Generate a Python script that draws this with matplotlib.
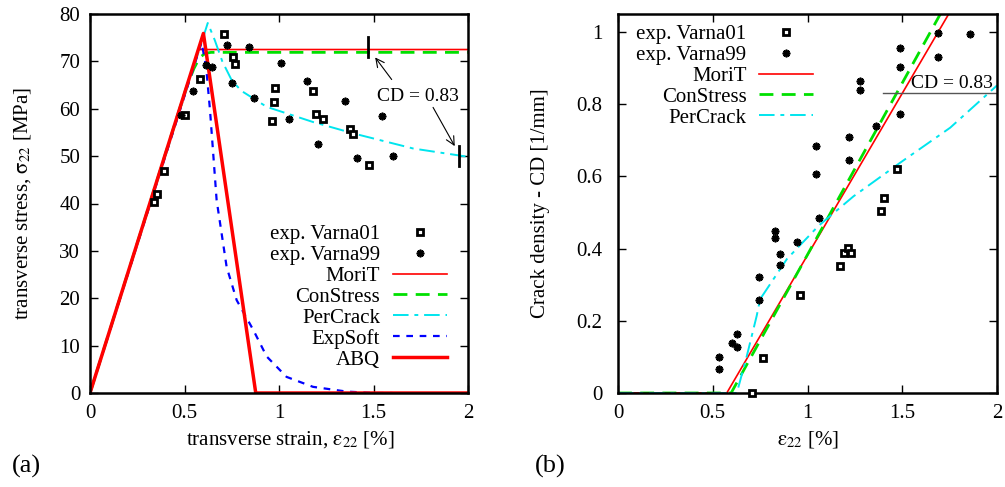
import matplotlib
matplotlib.use("Agg")
from matplotlib import pyplot as plt

plt.rcParams['font.family'] = ['Liberation Serif', 'DejaVu Serif']
plt.rcParams['mathtext.fontset'] = 'stix'
plt.rcParams['font.size'] = 15

# ---- (a) stress-strain data ----
v01_strain = [0.709, 0.757, 0.767, 0.584, 0.504, 0.392, 0.356, 0.339, 0.981, 0.975,
              0.961, 1.178, 1.194, 1.235, 1.376, 1.393, 1.474]
v01_stress = [75.8, 70.9, 69.5, 66.2, 58.6, 46.8, 42.1, 40.4, 64.3, 61.5,
              57.4, 63.8, 58.9, 57.9, 55.8, 54.6, 48.1]
v99_strain = [0.723, 0.840, 0.614, 0.644, 1.012, 0.753, 0.543, 0.481, 1.150, 0.868,
              1.055, 1.347, 1.205, 1.547, 1.413, 1.605]
v99_stress = [73.4, 73.0, 69.2, 68.8, 69.6, 65.5, 63.8, 58.6, 65.9, 62.3,
              57.9, 61.7, 52.5, 58.4, 49.6, 50.1]

mori_x = [0, 0.573, 2.0]
mori_y = [0, 72.5, 72.5]
cons_x = [0, 0.51, 0.55, 0.58, 0.61, 0.64, 2.0]
cons_y = [0, 64.5, 68.5, 70.8, 71.7, 71.9, 71.9]
perc_x = [0, 0.623, 0.66, 0.70, 0.75, 0.80, 0.935, 1.18, 1.393, 1.711, 1.993, 2.0]
perc_y = [0, 78.1, 74.5, 70.0, 66.0, 63.8, 60.4, 57.2, 54.8, 51.6, 49.9, 49.8]
exps_x = [0, 0.59, 0.614, 0.635, 0.670, 0.723, 0.776, 0.864, 0.935, 1.04, 1.18, 1.358, 1.5, 1.6]
exps_y = [0, 74.0, 69.0, 59.7, 40.7, 26.6, 19.6, 13.3, 7.7, 3.4, 1.3, 0.3, 0.0, 0.0]
abq_x = [0, 0.60, 0.877, 2.0]
abq_y = [0, 75.9, 0, 0]

# ---- (b) crack density data ----
cd01_strain = [0.706, 0.766, 0.961, 1.172, 1.190, 1.216, 1.230, 1.390, 1.406, 1.470]
cd01_cd = [0.0, 0.097, 0.272, 0.351, 0.389, 0.403, 0.389, 0.503, 0.541, 0.620]
cd99_strain = [0.533, 0.533, 0.600, 0.630, 0.630, 0.744, 0.744, 0.827, 0.827, 0.854,
               0.854, 0.943, 1.047, 1.047, 1.060, 1.220, 1.218, 1.278, 1.278, 1.361,
               1.489, 1.489, 1.489, 1.691, 1.688, 1.855]
cd99_cd = [0.100, 0.066, 0.138, 0.163, 0.128, 0.321, 0.257, 0.448, 0.430, 0.385,
           0.354, 0.418, 0.683, 0.606, 0.484, 0.709, 0.645, 0.864, 0.839, 0.739,
           0.956, 0.902, 0.772, 0.997, 0.932, 0.994]
b_mori_x = [0, 0.574, 1.744]
b_mori_y = [0, 0, 1.049]
b_cons_x = [0, 0.597, 1.700]
b_cons_y = [0, 0, 1.049]
b_perc_x = [0, 0.627, 0.68, 0.732, 0.75, 0.891, 1.058, 1.243, 1.489, 1.753, 2.0]
b_perc_y = [0, 0, 0.103, 0.214, 0.26, 0.371, 0.463, 0.545, 0.638, 0.735, 0.852]

fig = plt.figure(figsize=(10.05, 4.87), dpi=100)
ax1 = fig.add_axes([90/1005, 94/487, 378/1005, 379/487])
ax2 = fig.add_axes([618/1005, 94/487, 379/1005, 379/487])

sq = dict(marker='s', ls='none', ms=5, mfc='white', mec='black', mew=2.0)
ast = dict(marker=(8, 2, 0), ls='none', ms=5.5, mec='black', mew=1.3)

ax1.plot(v01_strain, v01_stress, label='exp. Varna01', zorder=5, **sq)
ax1.plot(v99_strain, v99_stress, label='exp. Varna99', zorder=5, **ast)
ax1.plot(mori_x, mori_y, color='#ff0000', lw=1.2, label='MoriT')
ax1.plot(cons_x, cons_y, color='#00e000', lw=2, ls=(0, (5, 3)), label='ConStress')
ax1.plot(perc_x, perc_y, color='#00e5ee', lw=1.4, ls=(0, (8, 3, 2, 3)), label='PerCrack')
ax1.plot(exps_x, exps_y, color='#0000ff', lw=1.6, ls=(0, (3, 3)), label='ExpSoft')
ax1.plot(abq_x, abq_y, color='#ff0000', lw=2.5, label='ABQ')

# CD = 0.83 markers
ax1.plot([1.473, 1.473], [71, 75.2], color='black', lw=2)
ax1.plot([1.954, 1.954], [48, 52.2], color='black', lw=2)
ax1.text(1.737, 62.5, 'CD = 0.83', ha='center', va='center', fontsize=14)
ax1.annotate('', xy=(1.5, 71.3), xytext=(1.605, 65.7),
             arrowprops=dict(arrowstyle='->', color='black', lw=0.8))
ax1.annotate('', xy=(1.937, 51.6), xytext=(1.808, 60.8),
             arrowprops=dict(arrowstyle='->', color='black', lw=0.8))

ax1.set_xlim(0, 2)
ax1.set_ylim(0, 80)
ax1.set_xticks([0, 0.5, 1, 1.5, 2])
ax1.set_xticklabels(['0', '0.5', '1', '1.5', '2'])
ax1.set_yticks(range(0, 81, 10))
ax1.set_xlabel(r'transverse strain, $\mathrm{\varepsilon}_{22}$ [%]')
ax1.set_ylabel(r'transverse stress, $\mathrm{\sigma}_{22}$ [MPa]')
ax1.xaxis.set_label_coords(0.53, -0.095)
ax1.yaxis.set_label_coords(-0.15, 0.5)
ax1.legend(loc='lower right', bbox_to_anchor=(0.944, 0.062), frameon=False,
           markerfirst=False, handlelength=2.6, handletextpad=0.6,
           labelspacing=0.06, fontsize=15, borderaxespad=0, borderpad=0)

ax2.plot(cd01_strain, cd01_cd, label='exp. Varna01', zorder=5, clip_on=False, **sq)
ax2.plot(cd99_strain, cd99_cd, label='exp. Varna99', zorder=5, **ast)
ax2.plot(b_mori_x, b_mori_y, color='#ff0000', lw=1.2, label='MoriT')
ax2.plot(b_cons_x, b_cons_y, color='#00e000', lw=2, ls=(0, (5, 3)), label='ConStress')
ax2.plot(b_perc_x, b_perc_y, color='#00e5ee', lw=1.4, ls=(0, (8, 3, 2, 3)), label='PerCrack')
ax2.plot([1.40, 2.0], [0.83, 0.83], color='#555555', lw=1)
ax2.text(1.762, 0.858, 'CD = 0.83', ha='center', va='center', fontsize=14)

ax2.set_xlim(0, 2)
ax2.set_ylim(0, 1.05)
ax2.set_xticks([0, 0.5, 1, 1.5, 2])
ax2.set_xticklabels(['0', '0.5', '1', '1.5', '2'])
ax2.set_yticks([0, 0.2, 0.4, 0.6, 0.8, 1])
ax2.set_yticklabels(['0', '0.2', '0.4', '0.6', '0.8', '1'])
ax2.set_xlabel(r'$\mathrm{\varepsilon}_{22}$ [%]')
ax2.set_ylabel('Crack density - CD [1/mm]')
ax2.xaxis.set_label_coords(0.50, -0.095)
ax2.yaxis.set_label_coords(-0.18, 0.5)
ax2.legend(loc='upper right', bbox_to_anchor=(0.515, 0.972), frameon=False,
           markerfirst=False, handlelength=2.6, handletextpad=0.6,
           labelspacing=0.06, fontsize=15, borderaxespad=0, borderpad=0)

for ax, p in ((ax1, 7), (ax2, 11)):
    ax.tick_params(direction='in', top=True, right=True, length=6, width=1,
                   labelsize=15)
    ax.tick_params(axis='y', pad=p)
    ax.tick_params(axis='x', pad=8)
    for s in ax.spines.values():
        s.set_linewidth(1.8)

fig.text(12/1005, 1 - 466/487, '(a)', fontsize=19, va='center')
fig.text(535/1005, 1 - 466/487, '(b)', fontsize=19, va='center')

fig.savefig('out.png', dpi=100)
